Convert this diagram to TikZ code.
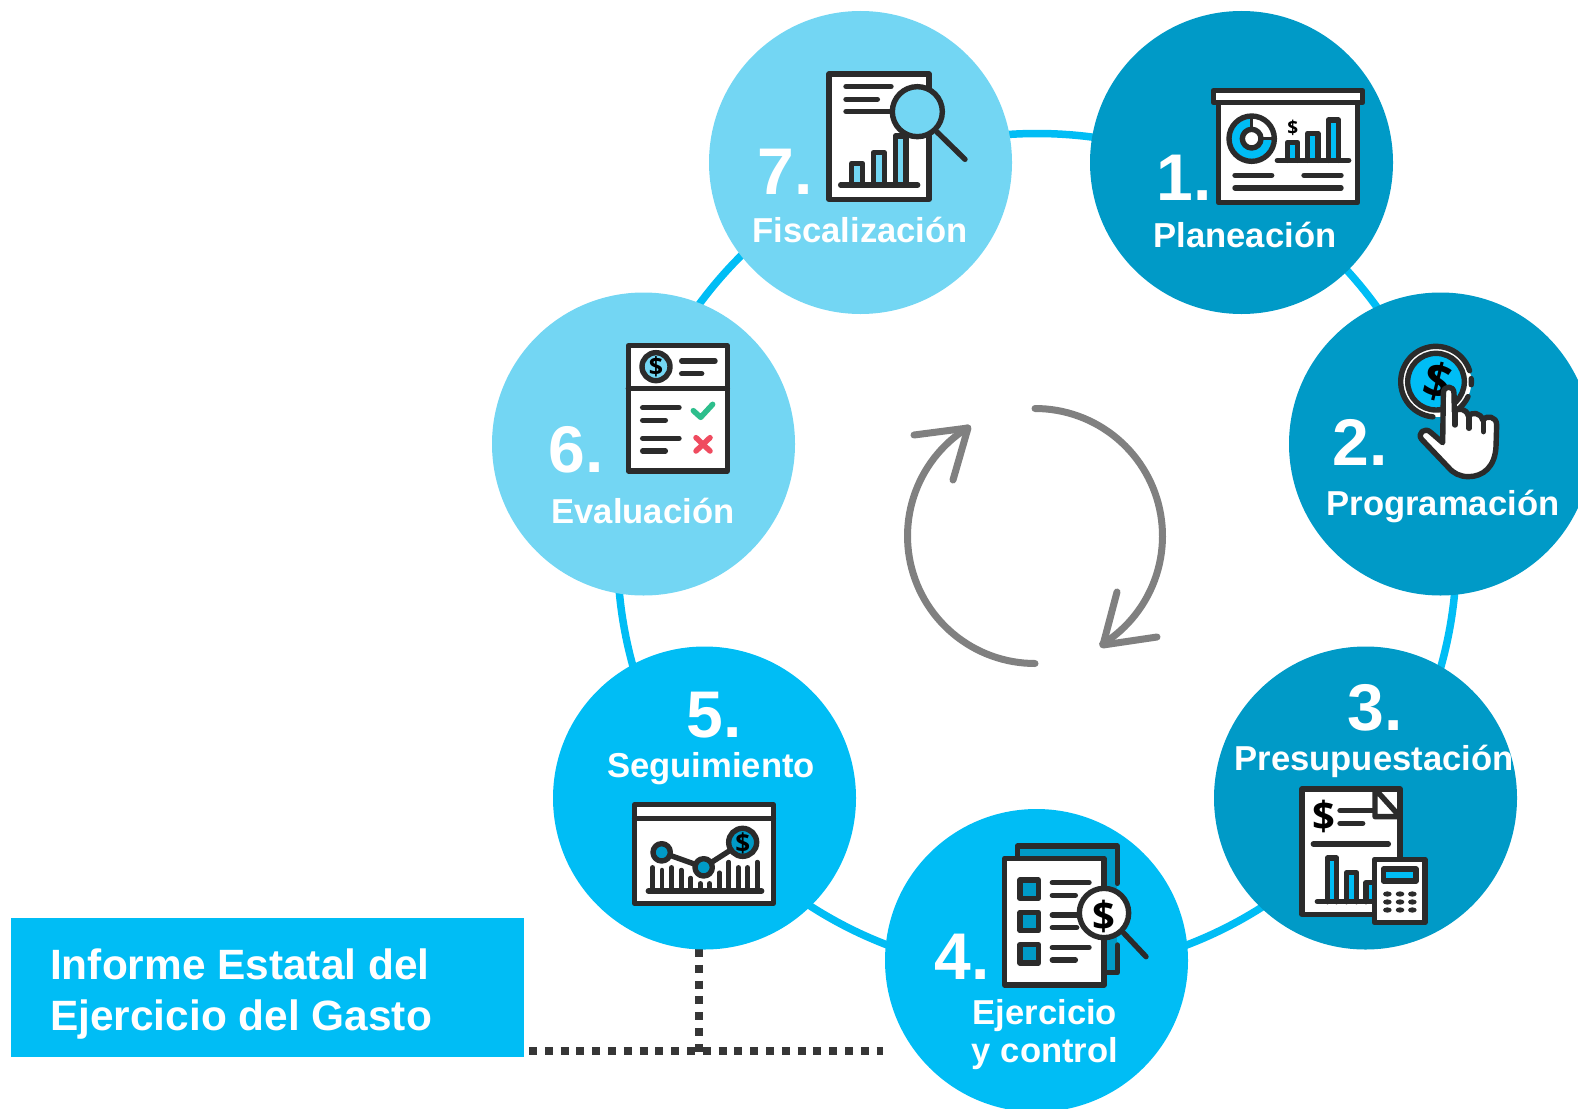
\documentclass[tikz,border=0pt]{standalone}
\usepackage{fontspec}
\setmainfont{Liberation Sans}
\newfontfamily\dollarfont{Open Sans}
\definecolor{dark}{HTML}{009AC7}
\definecolor{mid}{HTML}{00BDF5}
\definecolor{light}{HTML}{73D6F3}
\definecolor{icon}{HTML}{2B2B2B}
\definecolor{okc}{HTML}{2DBE8C}
\definecolor{noc}{HTML}{EF4B5F}
\tikzset{
  stage/.style={circle,minimum size=303pt,inner sep=0pt,fill=#1},
  ic/.style={draw=icon,line width=5.4pt,line cap=round,line join=round},
  icfine/.style={draw=icon,line width=3pt,line cap=round},
  numtxt/.style={text=white,font=\bfseries\fontsize{66}{66}\selectfont,anchor=base,inner sep=0pt},
  labtxt/.style={text=white,font=\bfseries\fontsize{34.6}{38}\selectfont,anchor=base,inner sep=0pt},
  dollar/.style={text=black,font=\dollarfont\bfseries\fontsize{#1}{#1}\selectfont,inner sep=0pt},
  dots/.style={draw=icon!95!white,line width=8pt,dash pattern=on 8pt off 7.8pt},
  cyc/.style={draw=black!50,line width=7pt,line cap=round,line join=round},
}
\begin{document}
\begin{tikzpicture}[x=1pt,y=-1pt]
\useasboundingbox (0,0) rectangle (1578,1108);
\clip (0,0) rectangle (1578,1108);
\coordinate (ringc) at (1037,553);
\draw[mid,line width=7.5pt] (ringc) circle (419.5);
% dotted connectors
\coordinate (vtop) at (699,949);
\coordinate (vbot) at (699,1055);
\coordinate (hstart) at (529,1051);
\coordinate (hend) at (883,1051);
\draw[dots] (vtop) -- (vbot);
\draw[dots] (hstart) -- (hend);
% stages
\node[stage=light] (n7) at (860.5,162.5) {};
\node[stage=dark] (n1) at (1241.5,162.5) {};
\node[stage=dark] (n2) at (1440.5,444) {};
\node[stage=dark] (n3) at (1365.5,798) {};
\node[stage=mid] (n4) at (1036.5,960.5) {};
\node[stage=mid] (n5) at (704.5,798) {};
\node[stage=light] (n6) at (643.5,444) {};
% title box
\node[fill=mid,anchor=north west,minimum width=513pt,minimum height=139pt,inner sep=0pt] (box) at (11,918) {};
\node[text=white,anchor=north west,inner sep=0pt,align=left,font=\bfseries\fontsize{42.4}{51}\selectfont] (title) at (50,949) {Informe Estatal del\\Ejercicio del Gasto};
% centre cycle
\draw[cyc] plot[domain=-90:58,samples=60] ({1035+127.5*cos(\x)},{536+127.5*sin(\x)});
\coordinate (t1) at (1103,645);
\coordinate (a1) at (1117,592);
\coordinate (b1) at (1157,637);
\draw[cyc] (a1) -- (t1) -- (b1);
\draw[cyc] plot[domain=90:238,samples=60] ({1035+127.5*cos(\x)},{536+127.5*sin(\x)});
\coordinate (t2) at (968,428);
\coordinate (a2) at (914,435);
\coordinate (b2) at (953,480);
\draw[cyc] (a2) -- (t2) -- (b2);
% texts
\node[numtxt] (num7) at (785,194) {7.};
\node[labtxt] (lab7) at (860,242) {Fiscalización};
\node[numtxt] (num1) at (1184,200) {1.};
\node[labtxt] (lab1) at (1245,247) {Planeación};
\node[numtxt] (num2) at (1360,465) {2.};
\node[labtxt] (lab2) at (1443,515) {Programación};
\node[numtxt] (num3) at (1375,730) {3.};
\node[labtxt] (lab3) at (1374,770) {Presupuestación};
\node[numtxt] (num4) at (962,979) {4.};
\node[labtxt] (lab4a) at (1045,1024) {Ejercicio};
\node[labtxt] (lab4b) at (1045,1062) {y control};
\node[numtxt] (num5) at (714,737) {5.};
\node[labtxt] (lab5) at (711,777) {Seguimiento};
\node[numtxt] (num6) at (576,472) {6.};
\node[labtxt] (lab6) at (643,523) {Evaluación};
% icon 1
\begin{scope}[shift={(1180,60)},scale=0.33333]
\draw[ic,fill=white] (115,128) rectangle (533,428);
\draw[ic,fill=white] (100,92) rectangle (548,128);
\fill[white] (215,236) circle (68);
\draw[mid,line width=9pt] plot[domain=0:270,samples=40] ({215+47*cos(\x)},{236+47*sin(\x)});
\draw[ic] (215,236) circle (68);
\draw[ic,fill=white] (215,236) circle (28);
\draw[icfine] (215,208) -- (215,170);
\draw[icfine] (243,236) -- (282,236);
\node[dollar=19] (d1) at (338,205) {\$};
\foreach \xa/\xb/\yt in {322/353/247,383/414/220,445/476/180}{
  \draw[ic,fill=mid] (\xa,301) -- (\xa,\yt) -- (\xb,\yt) -- (\xb,301);
}
\draw[ic] (292,301) -- (506,301);
\draw[ic] (165,346) -- (275,346);
\draw[ic] (372,346) -- (483,346);
\draw[ic] (165,384) -- (483,384);
\end{scope}
% icon 2
\begin{scope}[shift={(1370,330)},scale=0.33333]
\fill[white] (198,155) circle (106);
\draw[ic] plot[domain=95:342,samples=40] ({198+106*cos(\x)},{155+106*sin(\x)});
\draw[ic] plot[domain=-5:5,samples=5] ({198+106*cos(\x)},{155+106*sin(\x)});
\draw[ic] plot[domain=25:50,samples=8] ({198+106*cos(\x)},{155+106*sin(\x)});
\draw[ic,fill=mid] (198,155) circle (85);
\node[dollar=48,rotate=-14] (d2) at (203,155) {\$};
\draw[ic,fill=white] (220,190) .. controls (220,165) and (252,165) .. (252,190) -- (253,245) .. controls (262,232) and (290,235) .. (295,258) .. controls (305,245) and (333,248) .. (338,270) .. controls (348,255) and (380,258) .. (380,285) -- (378,350) .. controls (375,410) and (340,440) .. (295,440) .. controls (270,440) and (250,430) .. (235,412) -- (155,328) .. controls (140,310) and (165,290) .. (182,307) -- (218,338) -- cycle;
\draw[ic] (255,240) -- (255,285);
\draw[ic] (297,255) -- (297,295);
\draw[ic] (340,268) -- (340,305);
\end{scope}
% icon 3
\begin{scope}[shift={(1280,770)},scale=0.33333]
\draw[ic,fill=white] (66,57) rectangle (360,433);
\draw[ic] (285,57) -- (285,140) -- (360,140) -- cycle;
\node[dollar=40] (d3) at (133,140) {\$};
\draw[ic] (180,122) -- (280,122);
\draw[ic] (180,160) -- (248,160);
\draw[ic] (100,222) -- (325,222);
\foreach \xa/\xb/\yt in {142/170/264,200/230/308,258/288/338}{
  \draw[ic,fill=mid] (\xa,395) -- (\xa,\yt) -- (\xb,\yt) -- (\xb,395);
}
\draw[ic] (112,395) -- (285,395);
\draw[ic,fill=white] (283,268) rectangle (435,458);
\draw[ic,fill=mid] (310,297) rectangle (408,333);
\foreach \kx in {322,360,397}{\foreach \ky in {372,396,420}{
  \fill[icon] (\kx,\ky) ellipse (13 and 8);
}}
\end{scope}
% icon 4
\begin{scope}[shift={(990,830)},scale=0.33333]
\fill[dark] (82,48) rectangle (382,428);
\draw[ic] (82,80) -- (82,48) -- (382,48) -- (382,160);
\draw[ic] (382,345) -- (382,428) -- (345,428);
\draw[ic,fill=white] (44,85) rectangle (342,465);
\foreach \yy in {150,247,344}{
  \draw[ic,fill=dark] (90,\yy) rectangle (145,\yy+55);
}
\draw[ic] (187,158) -- (297,158);
\draw[ic] (187,196) -- (256,196);
\draw[ic] (187,255) -- (260,255);
\draw[ic] (187,293) -- (260,293);
\draw[ic] (187,352) -- (297,352);
\draw[ic] (187,390) -- (256,390);
\draw[ic] (400,308) -- (468,380);
\draw[ic,fill=white] (342,249) circle (74);
\node[dollar=40] (d4) at (342,258) {\$};
\end{scope}
% icon 5
\begin{scope}[shift={(620,790)},scale=0.33333]
\draw[ic,fill=white] (44,44) rectangle (460,340);
\draw[ic] (44,86) -- (460,86);
\foreach \xx/\yy in {98/232,126/240,155/232,184/240,212/264,241/280,269/280,298/248,326/216,355/232,383/232,412/216}{
  \draw[ic,line width=4.5pt] (\xx,303) -- (\xx,\yy);
}
\draw[ic] (85,303) -- (425,303);
\draw[ic] (125,187) -- (251,232) -- (368,157);
\draw[ic,fill=dark] (125,187) circle (26);
\draw[ic,fill=dark] (251,232) circle (26);
\draw[ic,fill=dark] (368,157) circle (42);
\node[dollar=26] (d5) at (368,159) {\$};
\end{scope}
% icon 6
\begin{scope}[shift={(610,335)},scale=0.33333]
\draw[ic,fill=white] (55,32) rectangle (352,408);
\draw[ic] (55,160) -- (352,160);
\draw[ic,fill=light] (138,95) circle (42);
\node[dollar=25] (d6) at (138,96) {\$};
\draw[ic] (215,78) -- (315,78);
\draw[ic] (215,116) -- (275,116);
\draw[ic] (98,218) -- (207,218);
\draw[ic] (98,256) -- (166,256);
\draw[ic] (98,310) -- (207,310);
\draw[ic] (98,348) -- (166,348);
\draw[okc,line width=5.5pt,line cap=round,line join=round] (250,227) -- (272,247) -- (308,208);
\draw[noc,line width=5.5pt,line cap=round] (258,308) -- (300,348);
\draw[noc,line width=5.5pt,line cap=round] (300,308) -- (258,348);
\end{scope}
% icon 7
\begin{scope}[shift={(815,60)},scale=0.33333]
\draw[ic,fill=white] (42,42) rectangle (342,418);
\draw[ic] (93,80) -- (228,80);
\draw[ic] (93,118) -- (187,118);
\draw[ic] (93,155) -- (230,155);
\foreach \xa/\xb/\yt in {110/143/310,175/208/278,241/273/228}{
  \draw[ic,fill=light] (\xa,375) -- (\xa,\yt) -- (\xb,\yt) -- (\xb,375);
}
\draw[ic] (77,375) -- (308,375);
\draw[ic] (365,215) -- (450,298);
\draw[ic,fill=light] (307,155) circle (75);
\end{scope}
\end{tikzpicture}
\end{document}
